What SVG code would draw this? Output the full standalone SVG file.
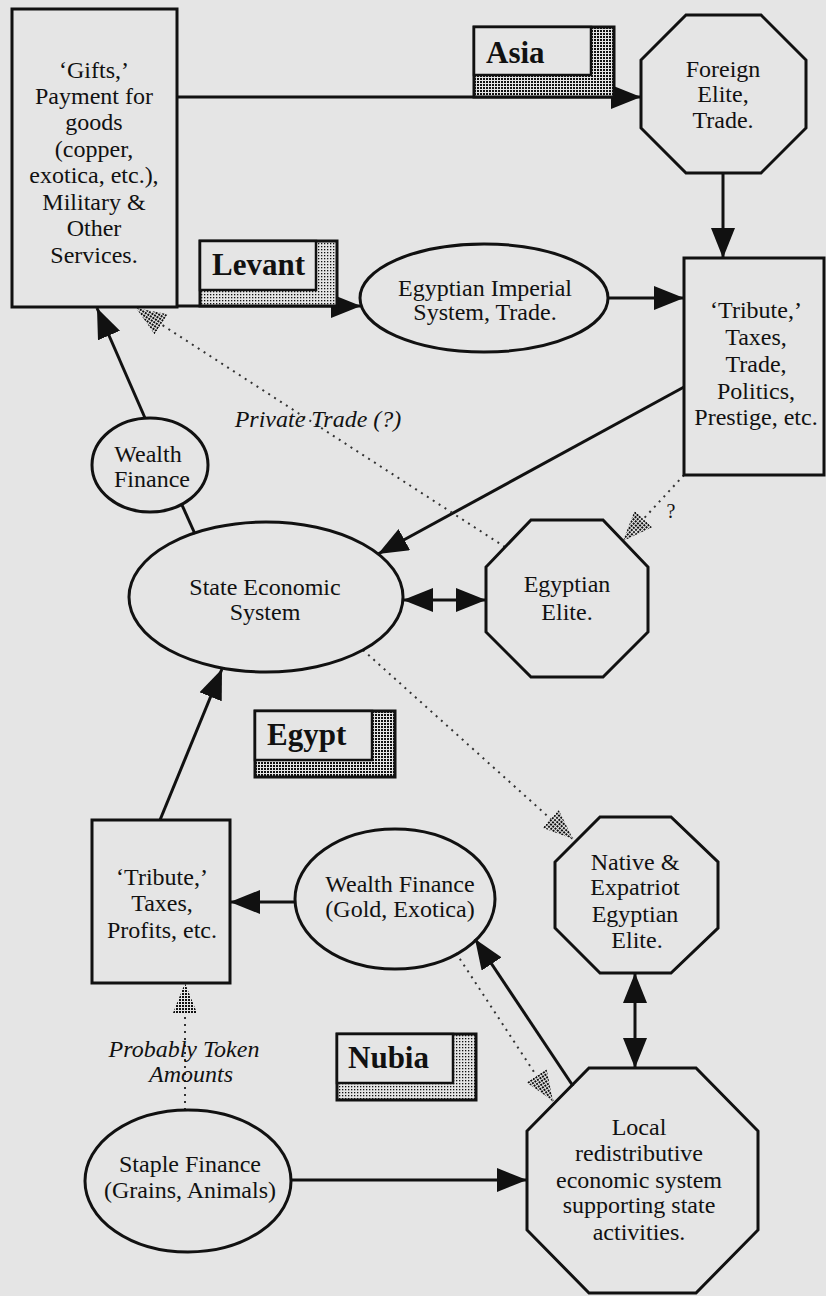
<svg xmlns="http://www.w3.org/2000/svg" width="826" height="1296" viewBox="0 0 826 1296">
<defs>
<style>
.bg{fill:#e5e5e5}
.shape{fill:none;stroke:#111;stroke-width:3}
.t{font-family:"Liberation Serif","Times New Roman",serif;font-size:24px;fill:#111;text-anchor:middle}
.lab{font-family:"Liberation Serif","Times New Roman",serif;font-size:31px;font-weight:bold;fill:#111}
.it{font-family:"Liberation Serif","Times New Roman",serif;font-size:24px;font-style:italic;fill:#111;text-anchor:middle}
.con{fill:none;stroke:#111;stroke-width:3}
.dot{fill:none;stroke:#333;stroke-width:2;stroke-dasharray:2 5}
.inner{fill:#e5e5e5;stroke:#111;stroke-width:2.5}
</style>
<pattern id="dense" width="3" height="3" patternUnits="userSpaceOnUse">
<rect width="3" height="3" fill="#e5e5e5"/><rect width="2" height="2" fill="#111"/>
</pattern>
<pattern id="light" width="3" height="3" patternUnits="userSpaceOnUse">
<rect width="3" height="3" fill="#e5e5e5"/><rect width="1.3" height="1.3" fill="#111"/>
</pattern>
<marker id="ah" markerUnits="userSpaceOnUse" markerWidth="30" markerHeight="24" refX="30" refY="12" orient="auto-start-reverse" viewBox="0 0 30 24">
<path d="M0,0 L30,12 L0,24 Z" fill="#111"/>
</marker>
<marker id="sh" markerUnits="userSpaceOnUse" markerWidth="30" markerHeight="24" refX="30" refY="12" orient="auto" viewBox="0 0 30 24">
<path d="M0,0 L30,12 L0,24 Z" fill="url(#dense)"/>
</marker>
</defs>
<rect class="bg" x="0" y="0" width="826" height="1296"/>

<g id="connectors">
<line class="con" x1="177" y1="97" x2="641" y2="97" marker-end="url(#ah)"/>
<line class="con" x1="177" y1="306" x2="361" y2="306" marker-end="url(#ah)"/>
<line class="con" x1="723" y1="173" x2="723" y2="258" marker-end="url(#ah)"/>
<line class="con" x1="608" y1="298" x2="684" y2="298" marker-end="url(#ah)"/>
<line class="con" x1="684" y1="387" x2="378" y2="554" marker-end="url(#ah)"/>
<line class="dot" x1="684" y1="475" x2="623" y2="541" marker-end="url(#sh)"/>
<line class="con" x1="403" y1="600" x2="486" y2="600" marker-start="url(#ah)" marker-end="url(#ah)"/>
<line class="con" x1="195" y1="534" x2="182" y2="505"/>
<line class="con" x1="145" y1="418" x2="97" y2="308" marker-end="url(#ah)"/>
<line class="dot" x1="505" y1="547" x2="136" y2="308" marker-end="url(#sh)"/>
<line class="dot" x1="363" y1="650" x2="573" y2="839" marker-end="url(#sh)"/>
<line class="con" x1="160" y1="820" x2="222" y2="669" marker-end="url(#ah)"/>
<line class="con" x1="296" y1="902" x2="230" y2="902" marker-end="url(#ah)"/>
<line class="dot" x1="456" y1="953" x2="553" y2="1101" marker-end="url(#sh)"/>
<line class="con" x1="573" y1="1086" x2="475" y2="939" marker-end="url(#ah)"/>
<line class="con" x1="635" y1="973" x2="635" y2="1068" marker-start="url(#ah)" marker-end="url(#ah)"/>
<line class="con" x1="291" y1="1180" x2="527" y2="1180" marker-end="url(#ah)"/>
<line class="dot" x1="185" y1="1110" x2="185" y2="983" marker-end="url(#sh)"/>
<text class="it" x="318" y="427">Private Trade  (?)</text>
<text class="t" x="671" y="518" style="font-size:20px">?</text>
<text class="it" x="184" y="1057">Probably Token</text>
<text class="it" x="191" y="1082">Amounts</text>
</g>

<g id="gifts">
<rect class="shape" x="12" y="9" width="165" height="298"/>
<text class="t" x="94" y="78">‘Gifts,’</text>
<text class="t" x="94" y="104">Payment for</text>
<text class="t" x="94" y="130">goods</text>
<text class="t" x="94" y="157">(copper,</text>
<text class="t" x="94" y="183">exotica, etc.),</text>
<text class="t" x="94" y="210">Military &amp;</text>
<text class="t" x="94" y="236">Other</text>
<text class="t" x="94" y="263">Services.</text>
</g>

<g id="asia-label">
<rect x="474" y="27" width="140" height="70" fill="url(#dense)" stroke="#111" stroke-width="3"/>
<rect class="inner" x="474" y="27" width="117" height="48"/>
<text class="lab" x="486" y="63">Asia</text>
</g>

<g id="foreign-elite">
<polygon class="shape" points="686,15 761,15 806,60 806,128 761,173 686,173 641,128 641,60"/>
<text class="t" x="723" y="77">Foreign</text>
<text class="t" x="723" y="102">Elite,</text>
<text class="t" x="723" y="128">Trade.</text>
</g>

<g id="levant-label">
<rect x="200" y="241" width="137" height="65" fill="url(#light)" stroke="#111" stroke-width="3"/>
<rect class="inner" x="200" y="241" width="116" height="49"/>
<text class="lab" x="212" y="275">Levant</text>
</g>

<g id="egyptian-imperial">
<ellipse class="shape" cx="484" cy="298" rx="124" ry="54"/>
<text class="t" x="485" y="296">Egyptian Imperial</text>
<text class="t" x="485" y="320">System, Trade.</text>
</g>

<g id="tribute-right">
<rect class="shape" x="684" y="258" width="140" height="217"/>
<text class="t" x="756" y="318">‘Tribute,’</text>
<text class="t" x="756" y="345">Taxes,</text>
<text class="t" x="756" y="372">Trade,</text>
<text class="t" x="756" y="399">Politics,</text>
<text class="t" x="756" y="425">Prestige, etc.</text>
</g>

<g id="wealth-finance">
<ellipse class="shape" cx="150" cy="465" rx="58" ry="47"/>
<text class="t" x="148" y="462">Wealth</text>
<text class="t" x="152" y="487">Finance</text>
</g>

<g id="state-economic">
<ellipse class="shape" cx="266" cy="597" rx="137" ry="75"/>
<text class="t" x="265" y="595">State Economic</text>
<text class="t" x="265" y="620">System</text>
</g>

<g id="egyptian-elite">
<polygon class="shape" points="531,520 603,520 648,567 648,632 603,677 531,677 486,632 486,567"/>
<text class="t" x="567" y="592">Egyptian</text>
<text class="t" x="567" y="620">Elite.</text>
</g>

<g id="egypt-label">
<rect x="255" y="711" width="140" height="66" fill="url(#dense)" stroke="#111" stroke-width="3"/>
<rect class="inner" x="255" y="711" width="117" height="49"/>
<text class="lab" x="267" y="745">Egypt</text>
</g>

<g id="tribute-left">
<rect class="shape" x="92" y="820" width="138" height="163"/>
<text class="t" x="162" y="885">‘Tribute,’</text>
<text class="t" x="162" y="911">Taxes,</text>
<text class="t" x="162" y="938">Profits, etc.</text>
</g>

<g id="wealth-gold">
<ellipse class="shape" cx="395" cy="899" rx="100" ry="70"/>
<text class="t" x="400" y="892">Wealth Finance</text>
<text class="t" x="400" y="917">(Gold, Exotica)</text>
</g>

<g id="native-elite">
<polygon class="shape" points="600,817 671,817 718,862 718,928 671,973 600,973 555,928 555,862"/>
<text class="t" x="635" y="870">Native &amp;</text>
<text class="t" x="635" y="895">Expatriot</text>
<text class="t" x="635" y="922">Egyptian</text>
<text class="t" x="637" y="948">Elite.</text>
</g>

<g id="nubia-label">
<rect x="337" y="1034" width="139" height="66" fill="url(#light)" stroke="#111" stroke-width="3"/>
<rect class="inner" x="337" y="1034" width="116" height="49"/>
<text class="lab" x="348" y="1068">Nubia</text>
</g>

<g id="staple-finance">
<ellipse class="shape" cx="188" cy="1181" rx="103" ry="71"/>
<text class="t" x="190" y="1172">Staple Finance</text>
<text class="t" x="190" y="1198">(Grains, Animals)</text>
</g>

<g id="local-system">
<polygon class="shape" points="589,1068 696,1068 758,1131 758,1230 696,1293 589,1293 527,1230 527,1131"/>
<text class="t" x="639" y="1135">Local</text>
<text class="t" x="639" y="1161">redistributive</text>
<text class="t" x="639" y="1188">economic system</text>
<text class="t" x="639" y="1213">supporting state</text>
<text class="t" x="639" y="1240">activities.</text>
</g>
</svg>
